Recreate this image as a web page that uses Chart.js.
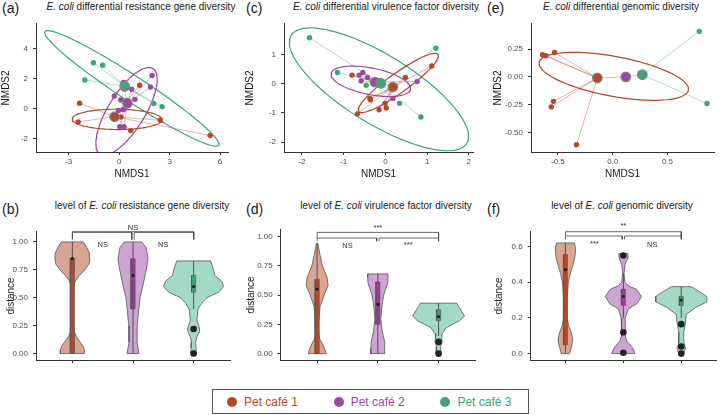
<!DOCTYPE html>
<html>
<head>
<meta charset="utf-8">
<script src="https://cdn.jsdelivr.net/npm/chart.js@4.4.1/dist/chart.umd.min.js"></script>
<style>
  body { margin: 0; width: 720px; height: 415px; position: relative; background: #fff; overflow: hidden; font-family: 'Liberation Sans', Arial, sans-serif; color: #1a1a1a; }
  .box { position: absolute; }
  .lab { position: absolute; font-size: 14px; line-height: 14px; }
  .ttl { position: absolute; font-size: 10px; line-height: 10px; white-space: nowrap; transform: translateX(-50%); }
  #legend { position: absolute; left: 212px; top: 389px; width: 317px; height: 25px; box-sizing: border-box; border: 1px solid #555; }
  .item { position: absolute; top: 0; height: 100%; display: flex; align-items: center; font-size: 12px; white-space: nowrap; }
  .dot { width: 10px; height: 10px; border-radius: 50%; margin-right: 7px; }
</style>
</head>
<body>

<div class="lab" style="left:2px;top:1px">(a)</div>
<div class="lab" style="left:246px;top:1px">(c)</div>
<div class="lab" style="left:487px;top:1px">(e)</div>
<div class="lab" style="left:2px;top:202px">(b)</div>
<div class="lab" style="left:246px;top:202px">(d)</div>
<div class="lab" style="left:487px;top:202px">(f)</div>

<div class="ttl" style="left:141px;top:2px"><i>E. coli</i> differential resistance gene diversity</div>
<div class="ttl" style="left:386px;top:2px"><i>E. coli</i> differential virulence factor diversity</div>
<div class="ttl" style="left:621px;top:2px"><i>E. coli</i> differential genomic diversity</div>
<div class="ttl" style="left:142px;top:201px">level of <i>E. coli</i> resistance gene diversity</div>
<div class="ttl" style="left:386px;top:201px">level of <i>E. coli</i> virulence factor diversity</div>
<div class="ttl" style="left:622px;top:201px">level of <i>E. coli</i> genomic diversity</div>

<div class="box" style="left:0px;top:14px"><canvas id="ca" width="234" height="166"></canvas></div>
<div class="box" style="left:244px;top:14px"><canvas id="cc" width="235" height="166"></canvas></div>
<div class="box" style="left:492px;top:14px"><canvas id="ce" width="228" height="166"></canvas></div>
<div class="box" style="left:5px;top:220px"><canvas id="cb" width="229" height="150"></canvas></div>
<div class="box" style="left:245px;top:220px"><canvas id="cd" width="234" height="150"></canvas></div>
<div class="box" style="left:493px;top:220px"><canvas id="cf" width="227" height="150"></canvas></div>

<div id="legend"></div>

<script>
const FONT = "'Liberation Sans', Arial, sans-serif"

const groups = ['Pet café 1', 'Pet café 2', 'Pet café 3']
const colors = ['#b4482b', '#9a4a9c', '#3fa37d']
const violinFills = ['#d8a593', '#cfa3d3', '#a4d9c5']
const boxFills = ['#b4482b', '#913f8f', '#3f9e78']

// (a) NMDS, resistance genes
const resX = [
  [-2.35, -2.43, 0.1, 1.22, 2.45, 0.69, 5.41],
  [1.96, 1.86, 0.75, 0.24, -0.29, 0.1, 0.94, -0.04, 0.25, 0.04, 0.29, 0.45],
  [-1.53, -0.98, -2.04, 2.06, 2.55, 0.3]
]
const resY = [
  [0.36, -0.89, -0.56, 1.56, -0.78, -1.47, -1.8],
  [2.21, 1.45, 1.3, 1.73, 0.84, 0.58, 0.62, -0.13, -0.07, -1.21, -1.21, 0.2],
  [3.07, 2.9, 1.92, 0.34, 0.13, 1.75]
]
const resCentX = [-0.27, 0.49, 0.33]
const resCentY = [-0.54, 0.36, 1.49]
// centre x, centre y, semi-axis 1 (x, y), semi-axis 2 (x, y)
const resEllipses = [
  [-0.12, -0.72, 2.67, -0.03, 0.05, 0.68],
  [0.44, -0.18, 1.56, 2.86, 0.94, -0.62],
  [0.76, 1.35, 5.16, -3.8, 0.42, 0.7]
]
const resXTicks = [-3, 0, 3, 6]
const resYTicks = [-2, 0, 2, 4]

// (c) NMDS, virulence factors
const virX = [
  [-0.8, -0.67, -0.37, -0.36, -0.15, -0.01, 0.02, 0.48, 1.11],
  [-0.63, -0.54, -0.58, -0.43, -0.3, 0.18, 0.76],
  [-1.82, 1.21, -1.15, -0.46, 0.34, 0.85, -0.12]
]
const virY = [
  [0.3, -1.03, -0.5, -0.55, -0.89, -0.67, -0.83, 0.22, 0.61],
  [0.3, 0.39, 0.1, 0.22, 0.05, -0.5, 0.08],
  [1.58, 1.22, 0.39, -0.05, -0.67, -1.14, 0.08]
]
const virCentX = [0.18, -0.25, -0.11]
const virCentY = [-0.11, 0.06, 0.02]
const virEllipses = [
  [0.31, 0.03, 0.95, 0.98, -0.14, 0.27],
  [-0.35, 0.085, 0.95, -0.27, 0.064, 0.447],
  [-0.155, -0.19, 2.1, -1.86, 0.45, 0.99]
]
const virXTicks = [-2, -1, 0, 1, 2]
const virYTicks = [-2, -1, 0, 1]

// (e) NMDS, genomes
const genX = [
  [-0.64, -0.61, -0.53, -0.54, -0.56, -0.33, 0.11],
  [0.11, 0.12],
  [0.79, 0.86, 0.12]
]
const genY = [
  [0.2, 0.19, 0.22, -0.22, -0.27, -0.61, 0.0],
  [0.0, 0.01],
  [0.41, -0.24, 0.0]
]
const genCentX = [-0.14, 0.12, 0.27]
const genCentY = [-0.01, 0.0, 0.02]
const genEllipses = [[0.01, 0.005, 0.68, -0.125, 0.034, 0.176], null, null]
const genXTicks = [-0.5, 0, 0.5]
const genXLabels = ['-0.5', '0.0', '0.5']
const genYTicks = [-0.5, -0.25, 0, 0.25]
const genYLabels = ['-0.50', '-0.25', '0.00', '0.25']

// (b) distances, resistance genes: density outline (level, half width in category units)
const resDistLevels = [
  [0, 0.03, 0.06, 0.1, 0.15, 0.2, 0.3, 0.45, 0.6, 0.65, 0.7, 0.75, 0.8, 0.85, 0.9, 0.95, 1.0],
  [0, 0.1, 0.25, 0.4, 0.5, 0.6, 0.75, 0.85, 0.95, 1.0],
  [0, 0.05, 0.1, 0.15, 0.19, 0.22, 0.25, 0.3, 0.4, 0.45, 0.5, 0.55, 0.6, 0.65, 0.7, 0.75, 0.8, 0.83]
]
const resDistWidths = [
  [0.198, 0.198, 0.182, 0.132, 0.066, 0.03, 0.012, 0.01, 0.02, 0.05, 0.116, 0.206, 0.272, 0.289, 0.281, 0.239, 0.182],
  [0.099, 0.066, 0.069, 0.096, 0.116, 0.16, 0.219, 0.248, 0.215, 0.145],
  [0.05, 0.041, 0.033, 0.054, 0.091, 0.099, 0.083, 0.054, 0.074, 0.132, 0.215, 0.413, 0.495, 0.462, 0.347, 0.33, 0.297, 0.28]
]
// q1, median, q3, lower whisker, upper whisker
const resBox = [[0.0, 0.85, 0.855, 0.0, 1.0], [0.4, 0.7, 0.85, 0.0, 1.0], [0.55, 0.6, 0.7, 0.4, 0.83]]
const resOutliers = [[], [], [0.22, 0.0]]
const resBrackets = [[1, 3, 1.092, 1.027], [1, 1.98, 1.086, 1.02], [2.02, 3, 1.086, 1.02]]
const resSig = ['NS', 'NS', 'NS']
const resSigX = [2, 1.5, 2.5]
const resSigY = [1.13, 0.973, 0.973]
const distTicks = [0, 0.25, 0.5, 0.75, 1]
const distLabels = ['0.00', '0.25', '0.50', '0.75', '1.00']

// (d) distances, virulence factors
const virDistLevels = [
  [0, 0.04, 0.08, 0.12, 0.15, 0.2, 0.25, 0.32, 0.4, 0.5, 0.58, 0.65, 0.7, 0.75, 0.85, 0.94],
  [0, 0.05, 0.1, 0.2, 0.3, 0.4, 0.5, 0.6, 0.65, 0.68],
  [0, 0.03, 0.06, 0.1, 0.13, 0.17, 0.22, 0.25, 0.28, 0.32, 0.37, 0.4, 0.43]
]
const virDistWidths = [
  [0.148, 0.124, 0.091, 0.049, 0.033, 0.028, 0.025, 0.033, 0.049, 0.115, 0.181, 0.165, 0.124, 0.087, 0.044, 0.013],
  [0.115, 0.115, 0.11, 0.069, 0.049, 0.066, 0.096, 0.161, 0.168, 0.165],
  [0.041, 0.036, 0.033, 0.061, 0.049, 0.058, 0.124, 0.231, 0.346, 0.428, 0.371, 0.33, 0.301]
]
const virBox = [[0.0, 0.55, 0.635, 0.0, 0.94], [0.25, 0.42, 0.61, 0.0, 0.68], [0.28, 0.315, 0.375, 0.15, 0.43]]
const virOutliers = [[], [], [0.1, 0.0]]
const virBrackets = [[1, 3, 1.034, 0.986], [1, 1.98, 0.986, 0.958], [2.02, 3, 0.986, 0.958]]
const virSig = ['***', 'NS', '***']
const virSigX = [2, 1.5, 2.5]
const virSigY = [1.076, 0.916, 0.93]

// (f) distances, genomes
const genDistLevels = [
  [0, 0.04, 0.08, 0.12, 0.16, 0.2, 0.3, 0.4, 0.45, 0.5, 0.54, 0.58, 0.62],
  [0, 0.02, 0.04, 0.07, 0.1, 0.15, 0.2, 0.25, 0.28, 0.32, 0.36, 0.38, 0.4, 0.45, 0.5, 0.53, 0.56],
  [0, 0.03, 0.06, 0.09, 0.12, 0.17, 0.22, 0.26, 0.29, 0.32, 0.35, 0.375]
]
const genDistWidths = [
  [0.072, 0.106, 0.128, 0.099, 0.051, 0.031, 0.029, 0.051, 0.085, 0.133, 0.162, 0.176, 0.159],
  [0.2, 0.179, 0.142, 0.06, 0.029, 0.029, 0.039, 0.085, 0.236, 0.313, 0.227, 0.085, 0.029, 0.012, 0.029, 0.068, 0.08],
  [0.043, 0.072, 0.048, 0.039, 0.043, 0.072, 0.085, 0.256, 0.441, 0.441, 0.299, 0.171]
]
const genBox = [[0.05, 0.47, 0.555, 0.0, 0.62], [0.27, 0.32, 0.36, 0.2, 0.45], [0.27, 0.3, 0.32, 0.2, 0.375]]
const genOutliers = [[], [0.55, 0.12, 0.005], [0.165, 0.04, 0.0]]
const genBrackets = [[1, 3, 0.683, 0.659], [1, 1.98, 0.659, 0.64], [2.02, 3, 0.659, 0.64]]
const genSig = ['**', '***', 'NS']
const genSigX = [2, 1.5, 2.5]
const genSigY = [0.715, 0.615, 0.61]
const genDistTicks = [0, 0.2, 0.4, 0.6]
const genDistLabels = ['0.0', '0.2', '0.4', '0.6']

// legend
const legend = document.getElementById('legend')
groups.forEach((name, g) => {
  legend.innerHTML += `<div class="item" style="left:${14 + g * 106.7}px;color:${colors[g]}"><span class="dot" style="background:${colors[g]}"></span>${name}</div>`
})

const sigText = {
  id: 'sigText',
  afterDatasetsDraw(chart, args, opts) {
    if (!opts.labels) return
    const {ctx, scales: {x, y}} = chart
    ctx.save()
    ctx.font = `7.5px ${FONT}`
    ctx.fillStyle = '#333'
    ctx.textAlign = 'center'
    ctx.textBaseline = 'middle'
    opts.labels.forEach((t, i) => ctx.fillText(t, x.getPixelForValue(opts.xs[i]), y.getPixelForValue(opts.ys[i])))
    ctx.restore()
  }
}

function axis(min, max, ticks, labels, title, size, isX) {
  return {
    type: 'linear', min, max,
    afterBuildTicks: s => { s.ticks = ticks.map(v => ({value: v})) },
    afterFit: s => { if (isX) s.height = size; else s.width = size },
    ticks: {callback: (v, i) => labels[i], font: {size: 8, family: FONT}, color: '#4d4d4d', padding: isX ? 2 : 5, autoSkip: false, maxRotation: 0},
    grid: {display: true, drawOnChartArea: false, drawTicks: true, tickLength: 3, color: '#333', lineWidth: 1},
    border: {display: true, color: '#333', width: 1},
    title: {display: !!title, text: title, font: {size: 10, family: FONT}, color: '#1a1a1a', padding: 0}
  }
}

function ellipse(e) {
  const pts = []
  for (let i = 0; i <= 120; i++) {
    const t = i / 120 * 2 * Math.PI
    pts.push({x: e[0] + e[2] * Math.cos(t) + e[4] * Math.sin(t), y: e[1] + e[3] * Math.cos(t) + e[5] * Math.sin(t)})
  }
  return pts
}

function baseOptions(padTop, padRight, x, y, sig) {
  return {
    responsive: false, animation: false, devicePixelRatio: 1,
    layout: {padding: {top: padTop, right: padRight, left: 0, bottom: 0}},
    plugins: {legend: {display: false}, tooltip: {enabled: false}, sigText: sig || {}},
    scales: {x, y}
  }
}

function scatterPanel(id, xs, ys, cx, cy, ells, x, y, padRight) {
  const datasets = []
  xs.forEach((gx, g) => {
    datasets.push({
      data: gx.flatMap((v, i) => [{x: v, y: ys[g][i]}, {x: cx[g], y: cy[g]}, {x: null, y: null}]),
      showLine: true, borderColor: colors[g] + '66', borderWidth: 1, pointRadius: 0, order: 40
    })
    if (ells[g]) {
      datasets.push({data: ellipse(ells[g]), showLine: true, borderColor: colors[g], borderWidth: 1.2, pointRadius: 0, order: 30})
    }
    datasets.push({data: gx.map((v, i) => ({x: v, y: ys[g][i]})), backgroundColor: colors[g], borderWidth: 0, pointRadius: 2.7, order: 20})
    datasets.push({data: [{x: cx[g], y: cy[g]}], backgroundColor: colors[g], borderColor: '#858585', borderWidth: 1.2, pointRadius: 4.8, order: 12 - g})
  })
  new Chart(document.getElementById(id), {type: 'scatter', data: {datasets}, options: baseOptions(6, padRight, x, y)})
}

function violinPanel(id, levels, widths, box, outliers, brackets, sig, y, padTop, padRight) {
  const datasets = []
  levels.forEach((lv, g) => {
    const c = g + 1
    const outline = lv.map((v, i) => ({x: c + widths[g][i], y: v}))
      .concat(lv.map((v, i) => ({x: c - widths[g][i], y: v})).reverse())
    outline.push(outline[0])
    datasets.push({data: outline, showLine: true, fill: 'shape', backgroundColor: violinFills[g], borderColor: '#555', borderWidth: 0.8, pointRadius: 0, order: 50})
    const [q1, med, q3, lo, hi] = box[g]
    datasets.push({data: [{x: c, y: lo}, {x: c, y: hi}], showLine: true, borderColor: '#333', borderWidth: 0.8, pointRadius: 0, order: 45})
    const bw = 0.035
    datasets.push({
      data: [{x: c - bw, y: q1}, {x: c + bw, y: q1}, {x: c + bw, y: q3}, {x: c - bw, y: q3}, {x: c - bw, y: q1}],
      showLine: true, fill: 'shape', backgroundColor: boxFills[g], borderColor: '#555', borderWidth: 0.6, pointRadius: 0, order: 40
    })
    datasets.push({data: [{x: c, y: med}], backgroundColor: '#222', borderWidth: 0, pointRadius: 1.6, order: 30})
    datasets.push({data: outliers[g].map(v => ({x: c, y: v})), backgroundColor: '#222', borderWidth: 0, pointRadius: 3.3, order: 20})
  })
  datasets.push({
    data: brackets.flatMap(b => [{x: b[0], y: b[3]}, {x: b[0], y: b[2]}, {x: b[1], y: b[2]}, {x: b[1], y: b[3]}, {x: null, y: null}]),
    showLine: true, borderColor: '#444', borderWidth: 0.8, pointRadius: 0, clip: false, order: 60
  })
  const x = axis(0.4, 3.6, [1, 2, 3], ['', '', ''], '', 9.3, true)
  new Chart(document.getElementById(id), {
    type: 'scatter', data: {datasets}, plugins: [sigText],
    options: baseOptions(padTop, padRight, x, y, sig)
  })
}

scatterPanel('ca', resX, resY, resCentX, resCentY, resEllipses,
  axis(-4.94, 6.47, resXTicks, resXTicks.map(String), 'NMDS1', 28, true),
  axis(-2.9, 5.67, resYTicks, resYTicks.map(String), 'NMDS2', 36, false), 4)

scatterPanel('cc', virX, virY, virCentX, virCentY, virEllipses,
  axis(-2.43, 2.1, virXTicks, virXTicks.map(String), 'NMDS1', 28, true),
  axis(-2.34, 2.06, virYTicks, virYTicks.map(String), 'NMDS2', 40, false), 4)

scatterPanel('ce', genX, genY, genCentX, genCentY, genEllipses,
  axis(-0.745, 0.924, genXTicks, genXLabels, 'NMDS1', 28, true),
  axis(-0.676, 0.478, genYTicks, genYLabels, 'NMDS2', 39, false), 2)

violinPanel('cb', resDistLevels, resDistWidths, resBox, resOutliers, resBrackets,
  {labels: resSig, xs: resSigX, ys: resSigY},
  axis(-0.06, 1.092, distTicks, distLabels, 'distance', 31, false), 11.7, 4)

violinPanel('cd', virDistLevels, virDistWidths, virBox, virOutliers, virBrackets,
  {labels: virSig, xs: virSigX, ys: virSigY},
  axis(-0.056, 1.056, distTicks, distLabels, 'distance', 35.7, false), 8.3, 4)

violinPanel('cf', genDistLevels, genDistWidths, genBox, genOutliers, genBrackets,
  {labels: genSig, xs: genSigX, ys: genSigY},
  axis(-0.037, 0.683, genDistTicks, genDistLabels, 'distance', 37.7, false), 11.7, 2)
</script>
</body>
</html>
